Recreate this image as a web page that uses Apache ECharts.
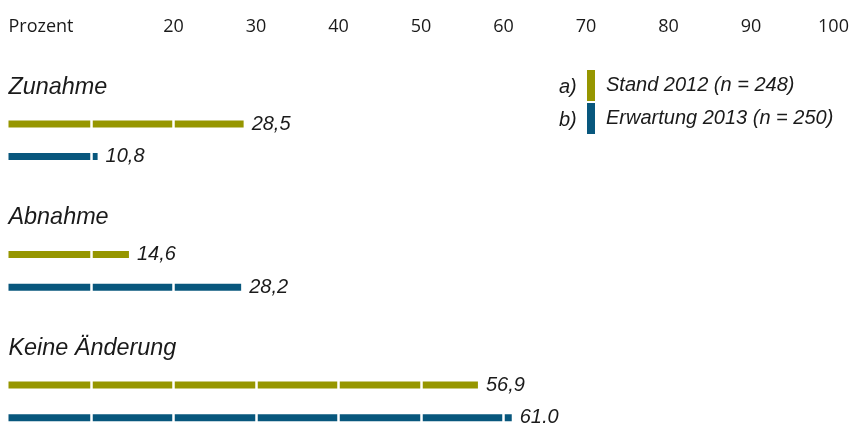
<!DOCTYPE html>
<html>
<head>
<meta charset="utf-8">
<script src="https://cdn.jsdelivr.net/npm/echarts@6/dist/echarts.min.js"></script>
<style>
  html, body { margin: 0; padding: 0; background: #ffffff; }
  #chart { width: 850px; height: 423px; }
</style>
</head>
<body>
<div id="chart"></div>
<script>
// Survey answers, share of respondents in percent
const categories = ['Zunahme', 'Abnahme', 'Keine Änderung'];
const stand2012 = [28.5, 14.6, 56.9];
const erwartung2013 = [10.8, 28.2, 61.0];
const seriesNames = ['Stand 2012 (n = 248)', 'Erwartung 2013 (n = 250)'];
const seriesTags = ['a)', 'b)'];
const axisTitle = 'Prozent';
const tickLabels = { 20: '20', 30: '30', 40: '40', 50: '50', 60: '60', 70: '70', 80: '80', 90: '90', 100: '100' };

const OLIVE = '#969600';
const BLUE = '#08577d';
const INK = '#1a1a1a';
const TICK_FONT = '"Open Sans", "Noto Sans", sans-serif';
const TEXT_FONT = '"Liberation Sans", "DejaVu Sans", sans-serif';

// Each group is a heading row, one row per series and a spacer row
const rows = [];
const rowsA = [];
const rowsB = [];
categories.forEach((cat, i) => {
  rows.push(cat);                 rowsA.push('-');          rowsB.push('-');
  rows.push(cat + '|a');          rowsA.push(stand2012[i]); rowsB.push('-');
  rows.push(cat + '|b');          rowsA.push('-');          rowsB.push(erwartung2013[i]);
  if (i < categories.length - 1) {
    rows.push(cat + '|gap');      rowsA.push('-');          rowsB.push('-');
  }
});

const fmt = v => v.toFixed(1).replace('.', ',');

const valueLabel = {
  show: true,
  position: 'right',
  distance: 8,
  formatter: p => fmt(p.value),
  fontFamily: TEXT_FONT,
  fontStyle: 'italic',
  fontSize: 20,
  color: INK
};

// Bars sit under the white 10-%-gridlines; their value labels are carried by
// transparent twin bars on a higher layer so the gridlines do not cut the text.
const barSeries = (name, data, color) => ({
  name, type: 'bar', data, barWidth: 7, barGap: '-100%', z: 2,
  itemStyle: { color }
});
const labelSeries = (name, data) => ({
  name, type: 'bar', data, barWidth: 7, barGap: '-100%', z: 20,
  itemStyle: { color: 'rgba(0,0,0,0)' },
  label: valueLabel, silent: true
});

const chart = echarts.init(document.getElementById('chart'), null, { renderer: 'canvas' });
chart.setOption({
  backgroundColor: '#ffffff',
  animation: false,
  grid: { left: 8.5, right: 16.5, top: 75, height: 359, containLabel: false, outerBoundsMode: 'none' },
  legend: {
    orient: 'vertical',
    left: 587,
    top: 70,
    z: 30,
    icon: 'rect',
    itemWidth: 8,
    itemHeight: 31,
    itemGap: 2,
    selectedMode: false,
    padding: 0,
    textStyle: { fontFamily: TEXT_FONT, fontStyle: 'italic', fontSize: 20, color: INK, padding: [0, 0, 0, 6] },
    data: seriesNames
  },
  graphic: seriesTags.map((t, i) => ({
    type: 'text',
    left: 559,
    top: 77 + i * 33,
    z: 30,
    style: { text: t, font: 'italic 20px ' + TEXT_FONT, fill: INK }
  })),
  xAxis: {
    type: 'value',
    position: 'top',
    min: 0,
    max: 100,
    interval: 10,
    z: 10,
    axisLine: { show: false },
    axisTick: { show: false },
    splitLine: { show: true, showMinLine: false, lineStyle: { color: '#ffffff', width: 2.5 } },
    axisLabel: {
      margin: 39,
      fontFamily: TICK_FONT,
      fontSize: 18,
      color: INK,
      alignMinLabel: 'left',
      showMinLabel: true,
      showMaxLabel: true,
      formatter: v => (v === 0 ? axisTitle : (tickLabels[v] || ''))
    }
  },
  yAxis: {
    type: 'category',
    inverse: true,
    data: rows,
    z: 30,
    axisLine: { show: false },
    axisTick: { show: false },
    splitLine: { show: false },
    axisLabel: {
      inside: true,
      interval: 0,
      margin: 0,
      align: 'left',
      verticalAlign: 'bottom',
      lineHeight: 8,
      fontFamily: TEXT_FONT,
      fontStyle: 'italic',
      fontSize: 23.4,
      color: INK,
      formatter: v => (v.indexOf('|') === -1 ? v : '')
    }
  },
  series: [
    barSeries(seriesNames[0], rowsA, OLIVE),
    barSeries(seriesNames[1], rowsB, BLUE),
    labelSeries('labels-a', rowsA),
    labelSeries('labels-b', rowsB)
  ]
});
</script>
</body>
</html>
